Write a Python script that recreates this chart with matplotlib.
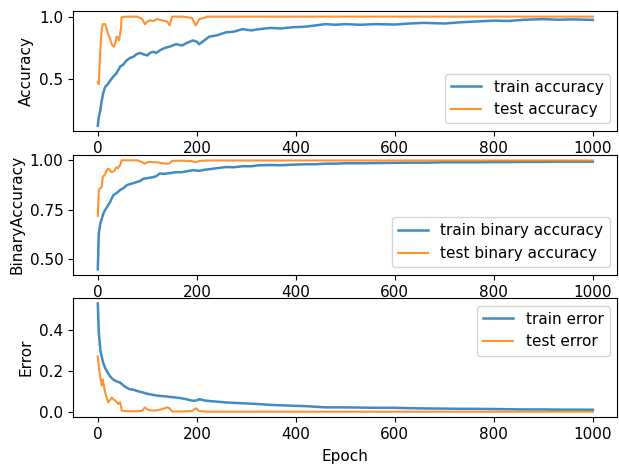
import numpy as np
import matplotlib.pyplot as plt

plt.rcParams['font.size'] = 11

ep_train = [0, 2, 5, 8, 11, 15, 20, 25, 31, 38, 45, 52, 58, 65, 72, 78, 85, 92, 100,
            105, 112, 118, 125, 135, 145, 158, 170, 180, 192, 200, 205, 215, 225, 240,
            259, 275, 292, 310, 326, 350, 370, 393, 420, 440, 460, 480, 500, 530, 560,
            600, 630, 660, 700, 734, 760, 801, 830, 860, 901, 930, 960, 1000]

train_acc = [0.13, 0.20, 0.25, 0.33, 0.39, 0.44, 0.46, 0.49, 0.52, 0.55, 0.60, 0.62, 0.65,
             0.67, 0.68, 0.70, 0.71, 0.70, 0.69, 0.71, 0.72, 0.71, 0.73, 0.75, 0.76, 0.78,
             0.77, 0.79, 0.81, 0.80, 0.78, 0.81, 0.84, 0.85, 0.875, 0.88, 0.90, 0.89, 0.90,
             0.91, 0.905, 0.915, 0.92, 0.93, 0.94, 0.935, 0.94, 0.935, 0.94, 0.937, 0.945,
             0.95, 0.945, 0.955, 0.96, 0.968, 0.965, 0.975, 0.98, 0.975, 0.978, 0.974]

train_bin = [0.45, 0.63, 0.68, 0.705, 0.73, 0.75, 0.77, 0.79, 0.823, 0.835, 0.85, 0.86, 0.874,
             0.88, 0.885, 0.89, 0.895, 0.907, 0.91, 0.912, 0.915, 0.92, 0.933, 0.932, 0.935,
             0.94, 0.94, 0.945, 0.95, 0.948, 0.947, 0.952, 0.955, 0.96, 0.966, 0.965, 0.97,
             0.97, 0.975, 0.976, 0.975, 0.978, 0.98, 0.98, 0.983, 0.983, 0.985, 0.985, 0.986,
             0.987, 0.988, 0.988, 0.99, 0.99, 0.99, 0.991, 0.991, 0.992, 0.992, 0.993, 0.993,
             0.993]

train_err = [0.53, 0.39, 0.305, 0.27, 0.24, 0.215, 0.193, 0.175, 0.16, 0.15, 0.145, 0.13,
             0.12, 0.112, 0.11, 0.105, 0.10, 0.096, 0.09, 0.088, 0.085, 0.082, 0.08, 0.078,
             0.075, 0.072, 0.068, 0.063, 0.056, 0.058, 0.064, 0.058, 0.055, 0.052, 0.048,
             0.046, 0.044, 0.042, 0.04, 0.036, 0.034, 0.032, 0.03, 0.027, 0.024, 0.024, 0.024,
             0.023, 0.022, 0.022, 0.02, 0.019, 0.018, 0.017, 0.017, 0.016, 0.015, 0.014,
             0.014, 0.013, 0.013, 0.0125]

ep_test = [0, 2, 5, 8, 10, 15, 18, 21, 25, 28, 33, 36, 38, 41, 43, 45, 47, 48, 60, 80, 90,
           95, 100, 105, 112, 120, 130, 140, 145, 150, 170, 190, 198, 205, 215, 220, 300,
           400, 500, 600, 700, 800, 900, 1000]

test_acc = [0.48, 0.46, 0.73, 0.90, 0.94, 0.94, 0.90, 0.86, 0.82, 0.78, 0.76, 0.80, 0.84,
            0.83, 0.81, 0.86, 0.915, 0.995, 1.0, 1.0, 0.98, 0.94, 0.96, 0.97, 0.965, 0.98,
            0.97, 0.96, 0.93, 1.0, 1.0, 0.99, 0.93, 0.98, 0.99, 1.0, 1.0, 1.0, 1.0, 1.0, 1.0,
            1.0, 1.0, 1.0]

test_bin = [0.72, 0.85, 0.86, 0.865, 0.916, 0.93, 0.95, 0.958, 0.95, 0.94, 0.945, 0.96,
            0.966, 0.96, 0.97, 0.975, 0.99, 1.0, 1.0, 1.0, 0.99, 0.983, 0.99, 0.992, 0.99,
            0.99, 0.985, 0.983, 0.984, 0.997, 0.998, 0.996, 0.99, 0.997, 0.998, 0.999,
            0.999, 0.999, 0.999, 0.999, 0.999, 0.999, 0.999, 0.999]

test_err = [0.273, 0.225, 0.17, 0.13, 0.16, 0.096, 0.07, 0.048, 0.06, 0.072, 0.06, 0.056,
            0.05, 0.04, 0.045, 0.048, 0.03, 0.008, 0.005, 0.005, 0.008, 0.024, 0.015, 0.01,
            0.008, 0.01, 0.015, 0.024, 0.02, 0.004, 0.004, 0.006, 0.02, 0.006, 0.004,
            0.003, 0.003, 0.003, 0.003, 0.003, 0.003, 0.003, 0.003, 0.003]

fig = plt.figure(figsize=(6.19, 4.65), dpi=100)
ax1 = fig.add_axes([0.118, 0.718, 0.879, 0.258])
ax2 = fig.add_axes([0.118, 0.409, 0.879, 0.258])
ax3 = fig.add_axes([0.118, 0.103, 0.879, 0.256])

ax1.plot(ep_train, train_acc, color='tab:blue', alpha=0.85, lw=1.8, label='train accuracy')
ax1.plot(ep_test, test_acc, color='tab:orange', alpha=0.85, label='test accuracy')
ax1.set_ylabel('Accuracy')
ax1.set_yticks([0.5, 1.0])
ax1.legend(loc='lower right')

ax2.plot(ep_train, train_bin, color='tab:blue', alpha=0.85, lw=1.8, label='train binary accuracy')
ax2.plot(ep_test, test_bin, color='tab:orange', alpha=0.85, label='test binary accuracy')
ax2.set_ylabel('BinaryAccuracy')
ax2.set_yticks([0.5, 0.75, 1.0])
ax2.legend(loc='lower right')

ax3.plot(ep_train, train_err, color='tab:blue', alpha=0.85, lw=1.8, label='train error')
ax3.plot(ep_test, test_err, color='tab:orange', alpha=0.85, label='test error')
ax3.set_ylabel('Error')
ax3.set_yticks([0.0, 0.2, 0.4])
ax3.set_xlabel('Epoch', labelpad=5)
ax3.legend(loc='upper right')

for ax in (ax1, ax2, ax3):
    ax.set_xlim(-50, 1049)
    ax.set_xticks([0, 200, 400, 600, 800, 1000])

fig.savefig('out.png', dpi=100)
